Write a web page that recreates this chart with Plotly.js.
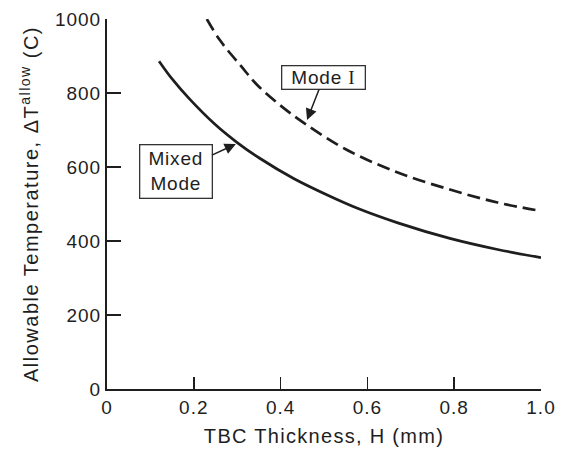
<!DOCTYPE html>
<html>
<head>
<meta charset="utf-8">
<script src="https://cdn.plot.ly/plotly-3.0.1.min.js"></script>
<style>
  html, body { margin: 0; padding: 0; background: #fff; }
  #chart { width: 563px; height: 450px; }
  .xtitle { letter-spacing: 1.3px; }
  .ytitle { letter-spacing: 1.5px; }
  .xtick text, .ytick text { letter-spacing: 1px; }
  .annotation-text { letter-spacing: 0.8px; }
</style>
</head>
<body>
<div id="chart"></div>
<script>
// Data
const mixedX = [0.12, 0.15, 0.19, 0.25, 0.30, 0.35, 0.43, 0.51, 0.58, 0.67, 0.79, 0.90, 1.00];
const mixedY = [886, 838, 784, 714, 666, 625, 569, 523, 487, 449, 407, 377, 355];

const modeIX = [0.23, 0.26, 0.31, 0.345, 0.40, 0.46, 0.55, 0.67, 0.79, 0.90, 1.00];
const modeIY = [1000, 943, 871, 823, 766, 714, 648, 585, 539, 504, 481];

const xTickVals = [0, 0.2, 0.4, 0.6, 0.8, 1.0];
const xTickLabels = ["0", "0.2", "0.4", "0.6", "0.8", "1.0"];
const yTickVals = [0, 200, 400, 600, 800, 1000];
const yTickLabels = ["0", "200", "400", "600", "800", "1000"];

const ink = "#1e1e1e";
const fontFam = "Liberation Sans, Arial, Helvetica, sans-serif";

const traces = [
  {
    x: mixedX, y: mixedY, type: "scatter", mode: "lines",
    line: { color: ink, width: 2.7, shape: "spline", smoothing: 1 },
    name: "Mixed Mode", hoverinfo: "skip"
  },
  {
    x: modeIX, y: modeIY, type: "scatter", mode: "lines",
    line: { color: ink, width: 2.7, shape: "spline", smoothing: 1, dash: "13px,6px" },
    name: "Mode I", hoverinfo: "skip"
  }
];

const layout = {
  width: 563, height: 450,
  margin: { l: 107, r: 21.5, t: 19, b: 61 },
  paper_bgcolor: "#fff", plot_bgcolor: "#fff",
  showlegend: false,
  font: { family: fontFam, color: ink, size: 19 },
  xaxis: {
    range: [0, 1], tickvals: xTickVals, ticktext: xTickLabels,
    ticks: "inside", ticklen: 12, tickwidth: 1.6, tickcolor: ink,
    showline: true, linewidth: 2, linecolor: ink,
    showgrid: false, zeroline: false, fixedrange: true,
    tickfont: { size: 19, color: ink, family: fontFam },
    title: { text: "TBC Thickness, H (mm)", font: { size: 20, color: ink, family: fontFam }, standoff: 12 }
  },
  yaxis: {
    range: [0, 1000], tickvals: yTickVals, ticktext: yTickLabels,
    ticks: "inside", ticklen: 14, tickwidth: 1.6, tickcolor: ink,
    showline: true, linewidth: 2, linecolor: ink,
    showgrid: false, zeroline: false, fixedrange: true,
    tickfont: { size: 19, color: ink, family: fontFam },
    title: { text: "Allowable Temperature, \u0394T<sup>allow</sup> (C)", font: { size: 20, color: ink, family: fontFam }, standoff: 11 }
  },
  xaxis2: {
    overlaying: "x", side: "top", anchor: "y",
    range: [0, 1], tickvals: xTickVals, showticklabels: false,
    ticks: "inside", ticklen: 7, tickwidth: 1.4, tickcolor: ink,
    showline: true, linewidth: 1.5, linecolor: ink,
    showgrid: false, zeroline: false, fixedrange: true
  },
  yaxis2: {
    overlaying: "y", side: "right", anchor: "x",
    range: [0, 1000], tickvals: yTickVals, showticklabels: false,
    ticks: "inside", ticklen: 7, tickwidth: 1.4, tickcolor: ink,
    showline: true, linewidth: 1.7, linecolor: ink,
    showgrid: false, zeroline: false, fixedrange: true
  },
  annotations: [
    {
      xref: "x", yref: "y", x: 0.297, y: 662,
      axref: "x", ayref: "y", ax: 0.158, ay: 587,
      text: "Mixed<br>Mode", showarrow: true,
      arrowhead: 2, arrowsize: 1.5, arrowwidth: 1.5, arrowcolor: ink, standoff: 0,
      font: { size: 19, color: ink, family: fontFam },
      bordercolor: "#333", borderwidth: 1.3, borderpad: 0, bgcolor: "#fff",
      width: 71, height: 52, align: "center", valign: "middle"
    },
    {
      xref: "x", yref: "y", x: 0.461, y: 727,
      axref: "x", ayref: "y", ax: 0.4994, ay: 842,
      text: "Mode <span style=\"font-family:'Liberation Serif','Times New Roman',serif\">I</span>",
      showarrow: true,
      arrowhead: 2, arrowsize: 1.5, arrowwidth: 1.5, arrowcolor: ink, standoff: 0,
      font: { size: 19, color: ink, family: fontFam },
      bordercolor: "#333", borderwidth: 1.3, borderpad: 0, bgcolor: "#fff",
      width: 82, height: 22, align: "center", valign: "middle"
    }
  ]
};

Plotly.newPlot("chart", traces, layout, { staticPlot: true, displayModeBar: false });
</script>
</body>
</html>
